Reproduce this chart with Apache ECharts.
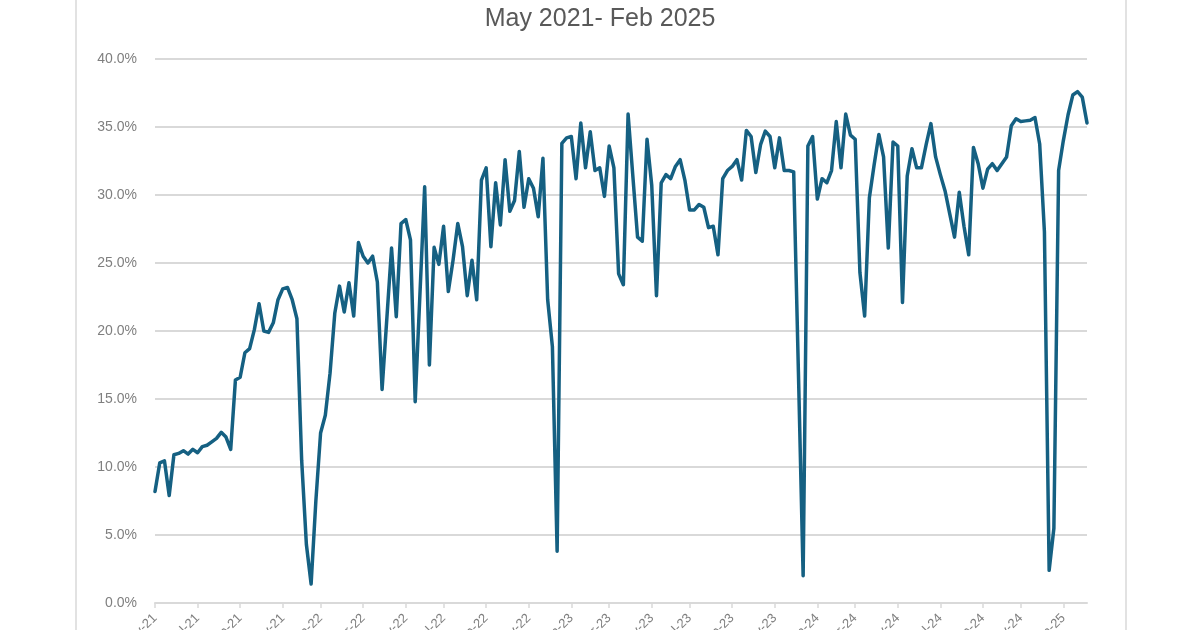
<!DOCTYPE html>
<html>
<head>
<meta charset="utf-8">
<script src="https://cdn.jsdelivr.net/npm/echarts@6/dist/echarts.min.js"></script>
<style>
  html, body { margin: 0; padding: 0; background: #ffffff; }
  #chart { width: 1200px; height: 630px; }
</style>
</head>
<body>
<div id="chart"></div>
<script>
// Title text
const chartTitle = 'May 2021- Feb 2025';

// First week of the weekly series (Sunday), one point per week
const startYear = 2021, startMonth = 4, startDay = 9; // 9 May 2021

// Weekly values, in percent
const values = [
  8.2, 10.3, 10.45, 7.9, 10.9, 11.0, 11.2, 10.95, 11.3, 11.05,
  11.5, 11.6, 11.85, 12.1, 12.55, 12.2, 11.3, 16.4, 16.6, 18.4,
  18.7, 20.1, 22.0, 20.0, 19.9, 20.6, 22.3, 23.1, 23.2, 22.3,
  20.9, 10.5, 4.3, 1.4, 7.5, 12.5, 13.8, 16.9, 21.3, 23.3,
  21.4, 23.55, 21.1, 26.5, 25.5, 25.0, 25.5, 23.6, 15.7, 20.9,
  26.1, 21.05, 27.9, 28.2, 26.7, 14.8, 22.7, 30.6, 17.5, 26.15,
  24.9, 27.7, 22.9, 25.2, 27.9, 26.2, 22.6, 25.2, 22.3, 31.1,
  32.0, 26.2, 30.9, 27.8, 32.6, 28.8, 29.6, 33.2, 29.1, 31.2,
  30.5, 28.4, 32.7, 22.3, 18.85, 3.8, 33.8, 34.2, 34.3, 31.2,
  35.3, 32.0, 34.65, 31.8, 32.0, 29.9, 33.6, 32.0, 24.2, 23.4,
  35.95, 31.4, 26.9, 26.6, 34.1, 30.7, 22.6, 30.9, 31.5, 31.2,
  32.1, 32.6, 31.1, 28.9, 28.9, 29.3, 29.1, 27.6, 27.7, 25.6,
  31.2, 31.8, 32.1, 32.6, 31.1, 34.75, 34.3, 31.65, 33.7, 34.7,
  34.3, 32.0, 34.2, 31.8, 31.8, 31.7, 17.0, 2.0, 33.6, 34.3,
  29.7, 31.2, 30.9, 31.8, 35.4, 32.0, 35.95, 34.4, 34.1, 24.3,
  21.1, 29.8, 32.2, 34.45, 32.8, 26.1, 33.9, 33.6, 22.1, 31.4,
  33.4, 32.0, 32.0, 33.7, 35.25, 32.8, 31.5, 30.3, 28.6, 26.9,
  30.2, 27.7, 25.6, 33.5, 32.3, 30.5, 31.9, 32.3, 31.8, 32.3,
  32.8, 35.1, 35.6, 35.4, 35.45, 35.5, 35.7, 33.75, 27.3, 2.4,
  5.5, 31.8, 34.0, 35.9, 37.35, 37.6, 37.2, 35.3
];

// Y-axis tick values (percent)
const yTicks = [0, 5, 10, 15, 20, 25, 30, 35, 40];

const monthNames = ['Jan','Feb','Mar','Apr','May','Jun','Jul','Aug','Sep','Oct','Nov','Dec'];

// Weekly date categories
const weekDates = values.map((_, i) => new Date(Date.UTC(startYear, startMonth, startDay + 7 * i)));
const categories = weekDates.map(d => d.toISOString().slice(0, 10));

// Major unit: two months, anchored on the start day of month
function isMajor(i) {
  const d = weekDates[i];
  const monthsFromStart = (d.getUTCFullYear() - startYear) * 12 + d.getUTCMonth() - startMonth;
  return monthsFromStart % 2 === 0 && d.getUTCDate() >= startDay && d.getUTCDate() < startDay + 7;
}
function tickLabel(val, i) {
  const d = weekDates[i];
  return monthNames[d.getUTCMonth()] + '-' + String(d.getUTCFullYear()).slice(2);
}

const chart = echarts.init(document.getElementById('chart'), null, { renderer: 'canvas' });

chart.setOption({
  backgroundColor: '#ffffff',
  animation: false,
  title: {
    text: chartTitle,
    left: 'center',
    top: 2,
    textStyle: {
      fontFamily: 'Liberation Sans, Arial, sans-serif',
      fontSize: 25,
      fontWeight: 'normal',
      color: '#595959'
    }
  },
  graphic: [{
    type: 'rect',
    z: -1,
    shape: { x: 76, y: -4, width: 1050, height: 640 },
    style: { fill: 'none', stroke: '#d9d9d9', lineWidth: 1.5 }
  }],
  grid: { left: 155, right: 113, top: 59, bottom: 27, containLabel: false, outerBoundsMode: 'none' },
  xAxis: {
    type: 'category',
    data: categories,
    boundaryGap: false,
    axisLine: { show: true, lineStyle: { color: '#d9d9d9', width: 2 } },
    axisTick: {
      show: true,
      interval: (i) => isMajor(i),
      length: 5,
      lineStyle: { color: '#d9d9d9', width: 1.5 }
    },
    axisLabel: {
      interval: (i) => isMajor(i),
      formatter: tickLabel,
      rotate: 45,
      margin: 13,
      color: '#7f7f7f',
      fontSize: 13,
      fontFamily: 'Liberation Sans, Arial, sans-serif'
    },
    splitLine: { show: false }
  },
  yAxis: {
    type: 'value',
    min: yTicks[0],
    max: yTicks[yTicks.length - 1],
    interval: yTicks[1] - yTicks[0],
    axisLine: { show: false },
    axisTick: { show: false },
    axisLabel: {
      formatter: v => v.toFixed(1) + '%',
      color: '#7f7f7f',
      fontSize: 14,
      margin: 18,
      fontFamily: 'Liberation Sans, Arial, sans-serif'
    },
    splitLine: { show: true, lineStyle: { color: '#d9d9d9', width: 2 } }
  },
  series: [{
    type: 'line',
    data: values,
    showSymbol: false,
    smooth: false,
    lineStyle: { color: '#156082', width: 3.5, join: 'round', cap: 'round' },
    itemStyle: { color: '#156082' }
  }]
});
</script>
</body>
</html>
